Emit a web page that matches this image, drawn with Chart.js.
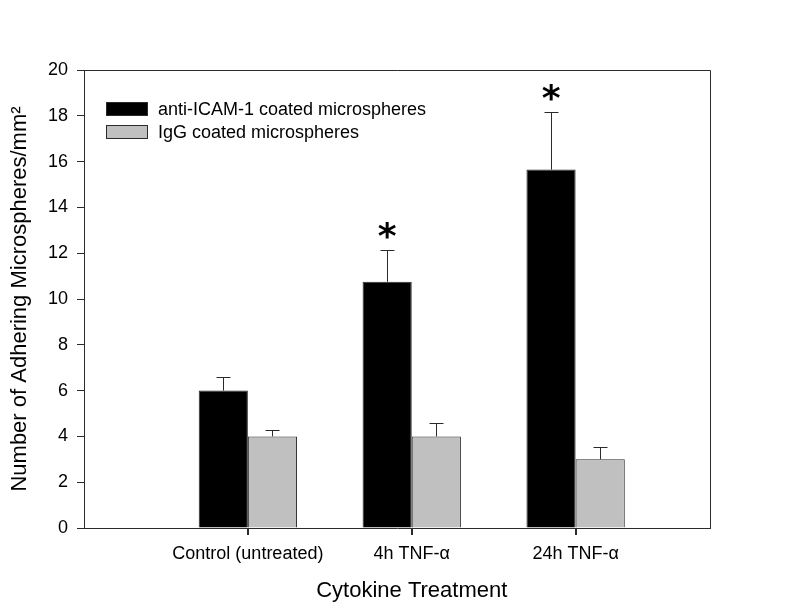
<!DOCTYPE html>
<html>
<head>
<meta charset="utf-8">
<script src="https://cdn.jsdelivr.net/npm/chart.js@4.4.0/dist/chart.umd.min.js"></script>
<style>
    html, body { margin: 0; padding: 0; background: #fff; }
    #wrap { width: 800px; height: 610px; }
</style>
</head>
<body>
<div id="wrap"><canvas id="chart"></canvas></div>
<script>
const categories = ['Control (untreated)', '4h TNF-\u03b1', '24h TNF-\u03b1'];
const icamValues = [6.0, 10.75, 15.65];
const icamErrors = [0.6, 1.4, 2.5];
const iggValues = [4.0, 4.0, 3.0];
const iggErrors = [0.3, 0.6, 0.55];
const significant = [false, true, true];
const seriesLabels = ['anti-ICAM-1 coated microspheres', 'IgG coated microspheres'];
const xTitle = 'Cytokine Treatment';
const yTitle = 'Number of Adhering Microspheres/mm\u00b2';
const yMin = 0;
const yMax = 20;
const yStep = 2;

const FONT = 'Arial, "Liberation Sans", sans-serif';
const INK = '#2b2b2b';

(function () {
    document.addEventListener('DOMContentLoaded', () => {
        const ctx = document.getElementById('chart');
        const errors = [icamErrors, iggErrors];

        // Whiskers (upper only) plus significance stars.
        const errorBars = {
            id: 'errorBars',
            afterDatasetsDraw(chart) {
                const c = chart.ctx;
                const yScale = chart.scales.y;
                c.save();
                c.strokeStyle = INK;
                c.lineWidth = 1;
                chart.data.datasets.forEach((ds, di) => {
                    const meta = chart.getDatasetMeta(di);
                    meta.data.forEach((bar, i) => {
                        const top = ds.data[i].y + errors[di][i];
                        const capY = Math.round(yScale.getPixelForValue(top)) + 0.5;
                        const x = Math.round(bar.x) + 0.5;
                        c.beginPath();
                        c.moveTo(x, bar.y);
                        c.lineTo(x, capY);
                        c.moveTo(x - 7, capY);
                        c.lineTo(x + 7, capY);
                        c.stroke();
                        if (di === 0 && significant[i]) {
                            c.fillStyle = '#000';
                            c.font = 'bold 36px "DejaVu Sans", sans-serif';
                            c.textAlign = 'center';
                            c.textBaseline = 'middle';
                            c.fillText('*', bar.x, capY - 12);
                        }
                    });
                });
                c.restore();
            }
        };

        // Box frame (top/right), x tick marks, x title under the middle group, inside legend.
        const frameAndLegend = {
            id: 'frameAndLegend',
            afterDraw(chart) {
                const c = chart.ctx;
                const a = chart.chartArea;
                const xScale = chart.scales.x;
                c.save();
                c.strokeStyle = INK;
                c.lineWidth = 1;
                c.beginPath();
                c.moveTo(a.left, Math.round(a.top) + 0.5);
                c.lineTo(Math.round(a.right) + 0.5, Math.round(a.top) + 0.5);
                c.lineTo(Math.round(a.right) + 0.5, a.bottom);
                categories.forEach((cat, i) => {
                    const px = Math.round(xScale.getPixelForValue(i + 1)) + 0.5;
                    c.moveTo(px, a.bottom);
                    c.lineTo(px, a.bottom + 7);
                });
                c.stroke();

                c.fillStyle = '#000';
                c.font = '22px ' + FONT;
                c.textAlign = 'center';
                c.textBaseline = 'middle';
                c.fillText(xTitle, xScale.getPixelForValue(2), 591);

                const fills = chart.data.datasets.map(ds => ds.backgroundColor);
                c.font = '18px ' + FONT;
                c.textAlign = 'left';
                seriesLabels.forEach((label, i) => {
                    const y = 102 + i * 23;
                    c.fillStyle = fills[i];
                    c.fillRect(106.5, y + 0.5, 41, 13);
                    c.strokeRect(106.5, y + 0.5, 41, 13);
                    c.fillStyle = '#000';
                    c.fillText(label, 158, y + 8);
                });
                c.restore();
            }
        };

        new Chart(ctx, {
            type: 'bar',
            data: {
                datasets: [{
                    label: seriesLabels[0],
                    data: icamValues.map((v, i) => ({ x: i + 1, y: v })),
                    backgroundColor: '#000000',
                    borderColor: INK,
                    borderWidth: 1,
                    categoryPercentage: 0.6,
                    barPercentage: 1.0
                }, {
                    label: seriesLabels[1],
                    data: iggValues.map((v, i) => ({ x: i + 1, y: v })),
                    backgroundColor: '#c0c0c0',
                    borderColor: INK,
                    borderWidth: 1,
                    categoryPercentage: 0.6,
                    barPercentage: 1.0
                }]
            },
            options: {
                responsive: true,
                maintainAspectRatio: false,
                animation: false,
                layout: { padding: { top: 70, right: 90, left: 0, bottom: 0 } },
                plugins: {
                    legend: { display: false },
                    tooltip: { enabled: false }
                },
                scales: {
                    x: {
                        type: 'linear',
                        offset: false,
                        min: 0,
                        max: 3.82,
                        afterBuildTicks(scale) {
                            scale.ticks = categories.map((c, i) => ({ value: i + 1 }));
                        },
                        afterFit(scale) { scale.height = 82; },
                        grid: { offset: false, drawOnChartArea: false, tickLength: 7, color: INK },
                        border: { display: true, color: INK, width: 1 },
                        ticks: {
                            autoSkip: false,
                            maxRotation: 0,
                            padding: 8,
                            color: '#000',
                            font: { family: FONT, size: 18 },
                            callback: (v) => categories[v - 1] || ''
                        }
                    },
                    y: {
                        min: yMin,
                        max: yMax,
                        afterFit(scale) { scale.width = 84; },
                        grid: { drawOnChartArea: false, tickLength: 7, color: INK },
                        border: { display: true, color: INK, width: 1 },
                        ticks: {
                            stepSize: yStep,
                            padding: 9,
                            color: '#000',
                            font: { family: FONT, size: 18 }
                        },
                        title: {
                            display: true,
                            text: yTitle,
                            color: '#000',
                            font: { family: FONT, size: 22 },
                            padding: { top: 7, bottom: 0 }
                        }
                    }
                }
            },
            plugins: [errorBars, frameAndLegend]
        });
    });
})();
</script>
</body>
</html>
